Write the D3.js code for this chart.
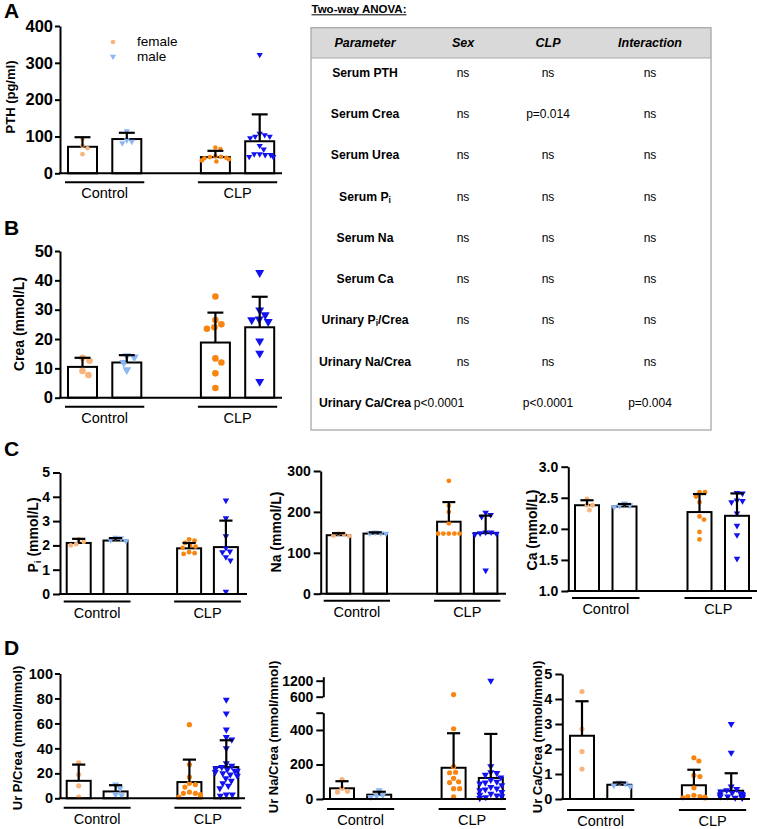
<!DOCTYPE html>
<html><head><meta charset="utf-8">
<script src="https://cdn.jsdelivr.net/npm/d3@7"></script>
<style>
body{margin:0;background:#fff}
svg{display:block}
text{font-family:"Liberation Sans",Arial,Helvetica,sans-serif;fill:#000}
</style>
</head><body>
<svg id="chart" width="757" height="829"></svg>
<script>
// ---------- DATA ----------
const groups = ["Control", "CLP"];
const slots = ["Control-female", "Control-male", "gap", "CLP-female", "CLP-male"];
const barSlots = ["Control-female", "Control-male", "CLP-female", "CLP-male"];
const legendLabels = ["female", "male"];

// Panel A: PTH (pg/ml)
const pthMean = [72, 93, 44, 87];
const pthSD = [26, 17, 17, 73];
const pthPoints = [
  [93, 75, 52, 68],
  [115, 90, 82, 86],
  [70, 66, 42, 45, 41, 44, 38, 46, 32, 35],
  [322, 108, 100, 96, 100, 104, 75, 65, 52, 52, 50, 50, 45, 45]
];
const pthTicks = [0, 100, 200, 300, 400];

// Panel B: Crea (mmol/L)
const creaMean = [10.5, 12.0, 18.8, 24.0];
const creaSD = [3.1, 2.5, 10.2, 10.4];
const creaPoints = [
  [13.6, 12.6, 9.1, 7.7],
  [14.3, 13.8, 12.0, 9.5],
  [34.5, 26.5, 24.0, 23.5, 25.0, 13.4, 12.0, 8.3, 3.3],
  [42.6, 29.9, 28.2, 26.5, 25.9, 26.8, 19.3, 15.1, 5.5]
];
const creaTicks = [0, 10, 20, 30, 40, 50];

// Panel C1: Pi (mmol/L)
const piMean = [2.1, 2.2, 1.88, 1.93];
const piSD = [0.17, 0.1, 0.22, 1.09];
const piPoints = [
  [2.25, 2.15, 2.05, 2.0],
  [2.32, 2.3, 2.22, 2.18],
  [2.25, 2.2, 2.1, 2.0, 1.95, 1.9, 1.72, 1.65, 1.68],
  [3.85, 3.12, 2.38, 1.9, 1.75, 1.72, 1.52, 1.38, 0.1]
];
const piTicks = [0, 1, 2, 3, 4, 5];

// Panel C2: Na (mmol/L)
const naMean = [143, 147, 176, 148];
const naSD = [5, 3, 48, 43];
const naPoints = [
  [146, 141, 142, 147],
  [148, 148, 147, 150],
  [276, 215, 200, 172, 147, 147, 147, 147, 147],
  [198, 193, 188, 150, 148, 147, 145, 150, 57]
];
const naTicks = [0, 100, 200, 300];

// Panel C3: Ca (mmol/L)
const caMean = [2.38, 2.36, 2.27, 2.21];
const caSD = [0.08, 0.04, 0.29, 0.36];
const caPoints = [
  [2.48, 2.38, 2.3, 2.38],
  [2.41, 2.38, 2.35, 2.37],
  [2.59, 2.59, 2.52, 2.43, 2.2, 2.15, 1.95, 1.83],
  [2.58, 2.57, 2.46, 2.45, 2.43, 2.25, 2.05, 1.9, 1.52]
];
const caTicks = [1.0, 1.5, 2.0, 2.5, 3.0];

// Panel D1: Ur P/Crea (mmol/mmol)
const upMean = [14, 5.5, 13, 25];
const upSD = [13, 5, 18, 21.5];
const upPoints = [
  [28.5, 19, 10, 1],
  [11, 8, 3, 2.5],
  [59, 27, 17, 12, 11, 9, 5, 4, 4, 3, 1, 1],
  [79, 68, 55, 49, 47, 40, 28, 26, 25, 24, 23, 22, 22, 21, 20, 19, 18, 16, 14, 12, 10, 8, 3, 3, 2]
];
const upTicks = [0, 20, 40, 60, 80, 100];

// Panel D2: Ur Na/Crea (mmol/mmol), broken axis
const unaMean = [62, 25, 181, 122];
const unaSD = [41, 17, 200, 255];
const unaPoints = [
  [113, 62, 45, 40],
  [50, 22, 18, 12],
  [680, 407, 187, 155, 152, 120, 100, 95, 60, 60, 12],
  [1200, 190, 155, 150, 140, 125, 110, 100, 95, 90, 80, 70, 60, 55, 50, 40, 30, 25, 20, 15, 10, 5]
];
const unaTicksLow = [0, 200, 400, 500];
const unaTicksHigh = [600, 1200];

// Panel D3: Ur Ca/Crea (mmol/mmol)
const ucaMean = [2.53, 0.57, 0.55, 0.33];
const ucaSD = [1.38, 0.09, 0.62, 0.7];
const ucaPoints = [
  [4.3, 2.8, 1.9, 1.2],
  [0.65, 0.62, 0.55, 0.5],
  [1.65, 1.52, 0.95, 0.9, 0.45, 0.15, 0.1, 0.1, 0.08, 0.05, 0.05, 0.05],
  [3.0, 1.85, 0.5, 0.4, 0.35, 0.3, 0.25, 0.22, 0.2, 0.18, 0.15, 0.15, 0.12, 0.1, 0.1, 0.08, 0.08, 0.05, 0.05, 0.05]
];
const ucaTicks = [0, 1, 2, 3, 4, 5];

// ANOVA table
const anovaHeader = ["Parameter", "Sex", "CLP", "Interaction"];
const anovaParams = ["Serum PTH", "Serum Crea", "Serum Urea", "Serum P_i", "Serum Na", "Serum Ca", "Urinary P_i/Crea", "Urinary Na/Crea", "Urinary Ca/Crea"];
const anovaSex = ["ns", "ns", "ns", "ns", "ns", "ns", "ns", "ns", "p<0.0001"];
const anovaCLP = ["ns", "p=0.014", "ns", "ns", "ns", "ns", "ns", "ns", "p<0.0001"];
const anovaInter = ["ns", "ns", "ns", "ns", "ns", "ns", "ns", "ns", "p=0.004"];

// ---------- STYLE ----------
const slotColor = {
  "Control-female": "#F9B47C",
  "Control-male": "#8BB7F4",
  "CLP-female": "#F8850F",
  "CLP-male": "#1212F0"
};

const svg = d3.select("#chart");

function marker(sel, slot, r) {
  if (slot.endsWith("female")) {
    sel.append("circle").attr("r", r).attr("fill", slotColor[slot]);
  } else {
    sel.append("path")
      .attr("d", d3.symbol().type(d3.symbolTriangle).size(r * r * 3.2)())
      .attr("transform", "rotate(180)")
      .attr("fill", slotColor[slot]);
  }
}

function swarm(vals, yfn, r, maxHalf) {
  const pts = vals.map(v => ({ v, y: yfn(v), dx: 0 })).sort((a, b) => a.y - b.y);
  const placed = [];
  const d = 2 * r + 0.6;
  pts.forEach(p => {
    let chosen = 0;
    for (let k = 0; k < 200; k++) {
      const cands = k === 0 ? [0] : [k * 0.5, -k * 0.5];
      let ok = null;
      for (const c of cands) {
        if (placed.every(q => Math.hypot(q.dx - c, q.y - p.y) >= d)) { ok = c; break; }
      }
      if (ok !== null) { chosen = ok; break; }
    }
    p.dx = Math.max(-maxHalf, Math.min(maxHalf, chosen));
    placed.push(p);
  });
  return pts;
}

function rotText(g, x, y, size, parts) {
  const t = g.append("text")
    .attr("transform", `translate(${x},${y}) rotate(-90)`)
    .attr("text-anchor", "middle")
    .attr("dominant-baseline", "central")
    .attr("font-weight", "bold")
    .attr("font-size", size);
  parts.forEach(p => {
    const ts = t.append("tspan").text(p.t);
    if (p.sub) ts.attr("font-size", size * 0.7).attr("dy", size * 0.25);
    if (p.after) ts.attr("dy", -size * 0.25);
  });
  return t;
}

function panel(o) {
  const g = svg.append("g");
  const yLow = d3.scaleLinear().domain(o.yDomain).range(o.yRange);
  let yUp = null;
  if (o.upper) yUp = d3.scaleLinear().domain(o.upper.domain).range(o.upper.range);
  const yfn = v => (yUp && v > o.yDomain[1]) ? yUp(v) : yLow(v);
  const x = d3.scaleBand().domain(slots)
    .range([o.barX, o.barX + 5 * o.step - (o.step - o.bw)])
    .paddingInner((o.step - o.bw) / o.step).paddingOuter(0);
  const bw = x.bandwidth();
  const base = yLow(o.yDomain[0]);

  // y axis
  const ax = d3.axisLeft(yLow).tickValues(o.ticks).tickSize(o.tickLen).tickSizeOuter(0).tickPadding(o.tickPad)
    .tickFormat(o.fmt || (d => String(d)));
  g.append("g").attr("transform", `translate(${o.axisX},0)`).call(ax);
  if (yUp) {
    const au = d3.axisLeft(yUp).tickValues(o.upper.ticks).tickSize(o.tickLen).tickSizeOuter(0).tickPadding(o.tickPad)
      .tickFormat(d => String(d));
    g.append("g").attr("transform", `translate(${o.axisX},0)`).call(au);
  }
  g.selectAll(".domain, .tick line").attr("stroke", "#000").attr("stroke-width", 2);
  g.selectAll(".tick text").attr("font-size", o.tickFont).attr("font-weight", "bold")
    .attr("font-family", '"Liberation Sans",Arial,sans-serif').attr("fill", "#000");

  // bars
  barSlots.forEach((s, i) => {
    g.append("rect").attr("x", x(s)).attr("y", yfn(o.mean[i]))
      .attr("width", bw).attr("height", base - yfn(o.mean[i]))
      .attr("fill", "#fff").attr("stroke", "#000").attr("stroke-width", 2);
  });
  // points
  barSlots.forEach((s, i) => {
    const cx = x(s) + bw / 2;
    const pts = swarm(o.pts[i], yfn, o.r, bw / 2 - 1);
    pts.forEach(p => {
      const m = g.append("g").attr("transform", `translate(${cx + p.dx},${p.y})`);
      marker(m, s, o.r);
    });
  });
  // error bars
  barSlots.forEach((s, i) => {
    const cx = x(s) + bw / 2;
    const top = yfn(o.mean[i] + o.sd[i]);
    const capW = bw * 0.55;
    g.append("line").attr("x1", cx).attr("x2", cx).attr("y1", yfn(o.mean[i])).attr("y2", top)
      .attr("stroke", "#000").attr("stroke-width", 2.2);
    g.append("line").attr("x1", cx - capW / 2).attr("x2", cx + capW / 2).attr("y1", top).attr("y2", top)
      .attr("stroke", "#000").attr("stroke-width", 2.2);
  });
  // x baseline
  g.append("line").attr("x1", o.axisX - 1).attr("x2", o.xEnd).attr("y1", base).attr("y2", base)
    .attr("stroke", "#000").attr("stroke-width", 2);
  // group underlines + labels
  groups.forEach((gr) => {
    const x1 = x(gr + "-female") - 3, x2 = x(gr + "-male") + bw + 3;
    const uy = base + o.ulOff;
    g.append("line").attr("x1", x1).attr("x2", Math.min(x2, o.xEnd)).attr("y1", uy).attr("y2", uy)
      .attr("stroke", "#000").attr("stroke-width", 2);
    g.append("text").attr("x", (x1 + x2) / 2).attr("y", uy + 16).attr("text-anchor", "middle")
      .attr("font-size", 14.5).text(gr);
  });
  // y title
  rotText(g, o.titleX, o.titleY, o.titleSize, o.title);
  return g;
}

// panel letters
[["A", 18], ["B", 235], ["C", 456], ["D", 655]].forEach(([l, y]) => {
  svg.append("text").attr("x", 4).attr("y", y).attr("font-size", 21).attr("font-weight", "bold").text(l);
});

panel({ mean: pthMean, sd: pthSD, pts: pthPoints, yDomain: [0, 400], yRange: [173.3, 26], ticks: pthTicks,
  axisX: 60, barX: 68, step: 44.3, bw: 29, xEnd: 282, r: 2.3, tickLen: 5, tickPad: 2, tickFont: 16.5,
  ulOff: 9, title: [{ t: "PTH (pg/ml)" }], titleX: 10, titleY: 97, titleSize: 13 });

// legend (panel A)
legendLabels.forEach((lab, i) => {
  const slot = "Control-" + lab;
  const m = svg.append("g").attr("transform", `translate(113,${42 + i * 14.5})`);
  marker(m, slot, 2.3);
  svg.append("text").attr("x", 137).attr("y", 46 + i * 15).attr("font-size", 13.5).text(lab);
});

panel({ mean: creaMean, sd: creaSD, pts: creaPoints, yDomain: [0, 50], yRange: [397.7, 251], ticks: creaTicks,
  axisX: 60, barX: 68, step: 44.3, bw: 29, xEnd: 282, r: 3.3, tickLen: 5, tickPad: 2, tickFont: 16.5,
  ulOff: 9, title: [{ t: "Crea (mmol/L)" }], titleX: 19, titleY: 324, titleSize: 14 });

panel({ mean: piMean, sd: piSD, pts: piPoints, yDomain: [0, 5], yRange: [594, 472.5], ticks: piTicks,
  axisX: 60, barX: 66.7, step: 36.8, bw: 24, xEnd: 247, r: 2.4, tickLen: 7, tickPad: 3, tickFont: 14,
  ulOff: 7.5, title: [{ t: "P" }, { t: "i", sub: true }, { t: " (mmol/L)", after: true }], titleX: 33, titleY: 535, titleSize: 14 });

panel({ mean: naMean, sd: naSD, pts: naPoints, yDomain: [0, 300], yRange: [593.7, 471], ticks: naTicks,
  axisX: 320.7, barX: 326.7, step: 36.8, bw: 23.5, xEnd: 506, r: 2.4, tickLen: 7, tickPad: 3, tickFont: 14,
  ulOff: 7, title: [{ t: "Na (mmol/L)" }], titleX: 276, titleY: 532, titleSize: 14 });

panel({ mean: caMean, sd: caSD, pts: caPoints, yDomain: [1, 3], yRange: [591, 466.7], ticks: caTicks, fmt: d3.format(".1f"),
  axisX: 568.3, barX: 575, step: 37.5, bw: 24, xEnd: 757, r: 2.4, tickLen: 7, tickPad: 3, tickFont: 14,
  ulOff: 7, title: [{ t: "Ca (mmol/L)" }], titleX: 532, titleY: 530, titleSize: 14 });

panel({ mean: upMean, sd: upSD, pts: upPoints, yDomain: [0, 100], yRange: [798.3, 673.5], ticks: upTicks,
  axisX: 60, barX: 66.7, step: 36.9, bw: 24, xEnd: 245, r: 2.6, tickLen: 5, tickPad: 2, tickFont: 14.5,
  ulOff: 9.5, title: [{ t: "Ur P/Crea (mmol/mmol)" }], titleX: 17, titleY: 738, titleSize: 13 });

panel({ mean: unaMean, sd: unaSD, pts: unaPoints, yDomain: [0, 500], yRange: [799, 712.7], ticks: unaTicksLow,
  fmt: d => (d === 500 ? "" : String(d)),
  upper: { domain: [600, 1350], range: [696.7, 676.7], ticks: unaTicksHigh },
  axisX: 323.3, barX: 330, step: 37.2, bw: 24, xEnd: 506, r: 2.6, tickLen: 7, tickPad: 3, tickFont: 14,
  ulOff: 10, title: [{ t: "Ur Na/Crea (mmol/mmol)" }], titleX: 273, titleY: 737, titleSize: 13 });

panel({ mean: ucaMean, sd: ucaSD, pts: ucaPoints, yDomain: [0, 5], yRange: [799, 674], ticks: ucaTicks,
  axisX: 562.3, barX: 570, step: 37.3, bw: 24, xEnd: 750, r: 2.6, tickLen: 7, tickPad: 3, tickFont: 14.5,
  ulOff: 11, title: [{ t: "Ur Ca/Crea (mmol/mmol)" }], titleX: 537, titleY: 737, titleSize: 13 });

// ---------- ANOVA table ----------
const tb = svg.append("g");
const tX0 = 311, tX1 = 711, tY0 = 27.7, tY1 = 430, tHead = 58;
const title = tb.append("text").attr("x", 311.5).attr("y", 12.5).attr("font-size", 11.5).attr("font-weight", "bold").text("Two-way ANOVA:");
const tw = title.node().getComputedTextLength();
tb.append("line").attr("x1", 311.5).attr("x2", 311.5 + tw).attr("y1", 14.8).attr("y2", 14.8).attr("stroke", "#000").attr("stroke-width", 1);
tb.append("rect").attr("x", tX0).attr("y", tY0).attr("width", tX1 - tX0).attr("height", tHead - tY0).attr("fill", "#d9d9d9");
tb.append("line").attr("x1", tX0).attr("x2", tX1).attr("y1", tHead).attr("y2", tHead).attr("stroke", "#a8a8a8").attr("stroke-width", 1.2);
tb.append("rect").attr("x", tX0).attr("y", tY0).attr("width", tX1 - tX0).attr("height", tY1 - tY0)
  .attr("fill", "none").attr("stroke", "#a8a8a8").attr("stroke-width", 1.3);

const colX = d3.scaleOrdinal().domain(anovaHeader).range([365, 463, 548, 650]);
anovaHeader.forEach(h => {
  tb.append("text").attr("x", colX(h)).attr("y", 43).attr("text-anchor", "middle").attr("dominant-baseline", "central")
    .attr("font-size", 12.5).attr("font-weight", "bold").attr("font-style", "italic").text(h);
});
const rowY = d3.scalePoint().domain(anovaParams).range([72.7, 403]);
anovaParams.forEach((p, i) => {
  const t = tb.append("text").attr("x", colX("Parameter")).attr("y", rowY(p)).attr("text-anchor", "middle")
    .attr("dominant-baseline", "central").attr("font-size", 12.2).attr("font-weight", "bold");
  const parts = p.split("_i");
  parts.forEach((part, j) => {
    if (j > 0) t.append("tspan").attr("font-size", 8.5).attr("dy", 3).text("i");
    const ts = t.append("tspan").text(part);
    if (j > 0) ts.attr("dy", -3);
  });
  [[anovaSex, "Sex"], [anovaCLP, "CLP"], [anovaInter, "Interaction"]].forEach(([arr, col]) => {
    let cx = colX(col);
    if (col === "Sex" && arr[i].length > 3) cx -= 24;
    tb.append("text").attr("x", cx).attr("y", rowY(p)).attr("text-anchor", "middle")
      .attr("dominant-baseline", "central").attr("font-size", 12).text(arr[i]);
  });
});
</script>
</body></html>
